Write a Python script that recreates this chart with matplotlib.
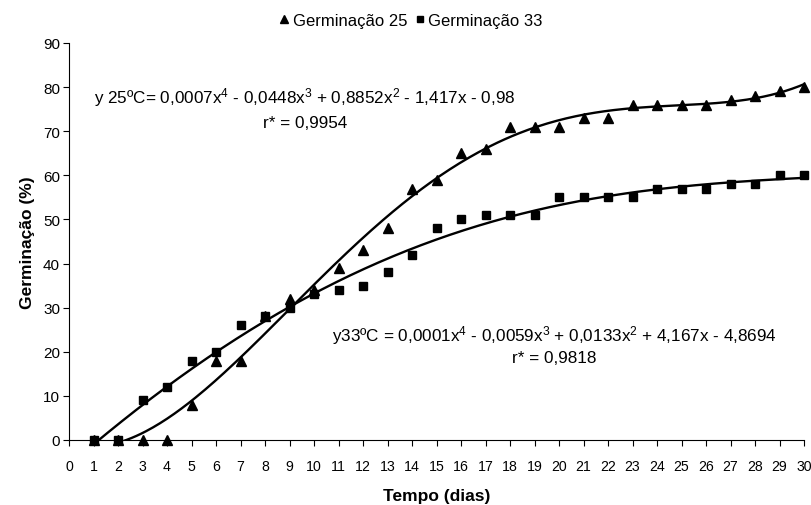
import numpy as np
import matplotlib
matplotlib.use("Agg")
import matplotlib.pyplot as plt

plt.rcParams['font.family'] = ['Liberation Sans', 'DejaVu Sans']
plt.rcParams['mathtext.fontset'] = 'custom'
plt.rcParams['mathtext.rm'] = 'Liberation Sans'
plt.rcParams['mathtext.it'] = 'Liberation Sans'

# data
dias = np.arange(1, 31)
germ_25 = [0, 0, 0, 0, 8, 18, 18, 28, 32, 34, 39, 43, 48, 57, 59,
           65, 66, 71, 71, 71, 73, 73, 76, 76, 76, 76, 77, 78, 79, 80]
germ_33 = [0, 0, 9, 12, 18, 20, 26, 28, 30, 33, 34, 35, 38, 42, 48,
           50, 51, 51, 51, 55, 55, 55, 55, 57, 57, 57, 58, 58, 60, 60]

eq_25 = r"y 25ºC= 0,0007x$^{4}$ - 0,0448x$^{3}$ + 0,8852x$^{2}$ - 1,417x - 0,98"
r_25 = "r* = 0,9954"
eq_33 = r"y33ºC = 0,0001x$^{4}$ - 0,0059x$^{3}$ + 0,0133x$^{2}$ + 4,167x - 4,8694"
r_33 = "r* = 0,9818"

fig = plt.figure(figsize=(8.11, 5.06), dpi=100)
ax = fig.add_axes([0.0851, 0.1285, 0.9063, 0.7846])

# 4th degree polynomial trend lines
xs = np.linspace(1, 30, 300)
fit25 = np.polyval(np.polyfit(dias, germ_25, 4), xs)
fit33 = np.polyval(np.polyfit(dias, germ_33, 4), xs)
ax.plot(xs, fit25, color='black', lw=1.7)
ax.plot(xs, fit33, color='black', lw=1.7)

ax.plot(dias, germ_25, '^', color='black', ms=7, ls='none', clip_on=False,
        label='Germinação 25')
ax.plot(dias, germ_33, 's', color='black', ms=6.3, ls='none', clip_on=False,
        label='Germinação 33')

ax.set_xlim(0, 30)
ax.set_ylim(0, 90)
ax.set_xticks(range(0, 31))
ax.set_yticks(range(0, 91, 10))
ax.tick_params(labelsize=11, length=4.5, width=0.8, direction='out')
ax.tick_params(axis='x', labelsize=10.2, pad=9)
ax.tick_params(axis='y', pad=2)
for s in ['top', 'right']:
    ax.spines[s].set_visible(False)
for s in ['left', 'bottom']:
    ax.spines[s].set_linewidth(0.8)

ax.set_xlabel("Tempo (dias)", fontsize=12.5, fontweight='bold', labelpad=11)
ax.set_ylabel("Germinação (%)", fontsize=12.5, fontweight='bold', labelpad=6)

ax.text(9.63, 77.8, eq_25, fontsize=12.3, ha='center', va='center')
ax.text(9.63, 71.9, r_25, fontsize=12.3, ha='center', va='center')
ax.text(19.8, 24.0, eq_33, fontsize=12.3, ha='center', va='center')
ax.text(19.8, 18.8, r_33, fontsize=12.3, ha='center', va='center')

fig.legend(loc='center', bbox_to_anchor=(0.507, 0.958), ncol=2, frameon=False,
           fontsize=12, handlelength=0.5, handletextpad=0.25, columnspacing=0.5,
           markerscale=0.75)

fig.savefig("out.png", dpi=100)
